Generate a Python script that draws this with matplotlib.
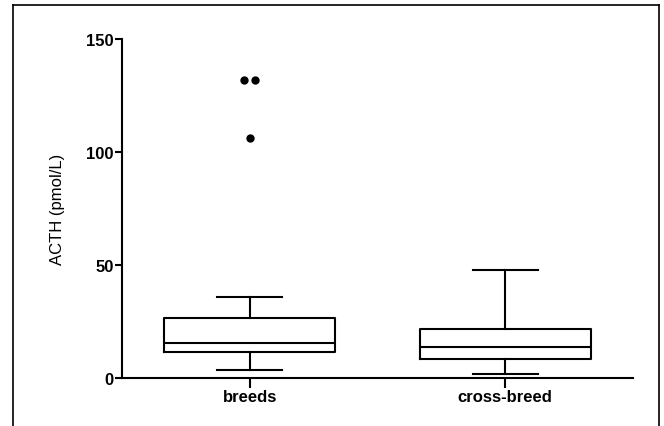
import matplotlib
matplotlib.use("Agg")
import matplotlib.pyplot as plt
from matplotlib.lines import Line2D

plt.rcParams['font.family'] = ['Liberation Sans', 'DejaVu Sans']

groups = ["breeds", "cross-breed"]
whislo = [3.5, 1.6]
q1 = [11.4, 8.4]
med = [15.6, 13.7]
q3 = [26.5, 21.7]
whishi = [35.8, 47.9]
outliers = [[132, 132, 106], []]

stats = []
for i, g in enumerate(groups):
    stats.append(dict(label=g, whislo=whislo[i], q1=q1[i], med=med[i],
                      q3=q3[i], whishi=whishi[i], fliers=[]))

fig = plt.figure(figsize=(6.64, 4.27), dpi=100)
ax = fig.add_axes([0.1837, 0.1124, 0.7693, 0.7939])

lw = 1.5
blk = dict(color='black', linewidth=lw)
ax.bxp(stats, positions=[1, 2], widths=0.67, showfliers=False,
       boxprops=blk, medianprops=blk, whiskerprops=blk, capprops=blk,
       capwidths=0.255)

# outliers: spread repeated values side by side
for i, vals in enumerate(outliers):
    seen = {}
    for v in vals:
        seen[v] = seen.get(v, 0) + 1
    for v, n in seen.items():
        offs = [(k - (n - 1) / 2) * 0.045 for k in range(n)]
        ax.scatter([i + 1 + o for o in offs], [v] * n, s=36, color='black',
                   zorder=3, linewidths=0)

ax.set_xlim(0.5, 2.5)
ax.set_ylim(0, 150)
ax.set_yticks([0, 50, 100, 150])
ax.set_xticks([1, 2])
ax.set_xticklabels(groups, fontweight='bold', fontsize=12)
for t in ax.get_yticklabels():
    t.set_fontweight('bold')
    t.set_fontsize(12)
ax.tick_params(axis='y', length=5, width=lw, pad=1)
ax.tick_params(axis='x', length=7, width=lw, pad=1)
ax.set_ylabel("ACTH (pmol/L)", fontsize=12, labelpad=15)

for s in ['top', 'right']:
    ax.spines[s].set_visible(False)
for s in ['left', 'bottom']:
    ax.spines[s].set_linewidth(lw)

# outer frame (open at bottom)
fx0, fx1, fy = 12.5 / 664, 658.5 / 664, 1 - 6 / 427
fig.add_artist(Line2D([fx0, fx0], [0, fy], color='black', lw=1.2, transform=fig.transFigure))
fig.add_artist(Line2D([fx1, fx1], [0, fy], color='black', lw=1.2, transform=fig.transFigure))
fig.add_artist(Line2D([fx0, fx1], [fy, fy], color='black', lw=1.2, transform=fig.transFigure))

fig.savefig("out.png", dpi=100)
